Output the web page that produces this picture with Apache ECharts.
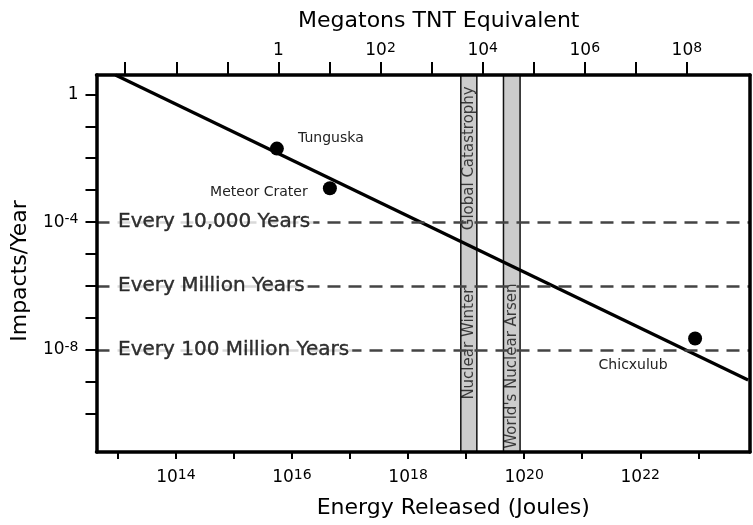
<!DOCTYPE html>
<html>
<head>
<meta charset="utf-8">
<script src="https://cdn.jsdelivr.net/npm/echarts@6/dist/echarts.min.js"></script>
<style>
html,body{margin:0;padding:0;background:#fff;}
#c{width:753px;height:525px;}
</style>
</head>
<body>
<div id="c"></div>
<script>
// ---------------- DATA ----------------
const eventNames = ['Tunguska', 'Meteor Crater', 'Chicxulub'];
const eventEnergyJ = [5.5e15, 4.5e16, 8.8e22];
const eventImpactsPerYear = [2.0e-2, 1.15e-3, 2.3e-8];

const trendEnergyJ = [9.1e12, 7.2e23];
const trendImpactsPerYear = [4.0, 1.15e-9];

const recurrenceImpactsPerYear = [1e-4, 1e-6, 1e-8];
const recurrenceLabels = ['Every 10,000 Years', 'Every Million Years', 'Every 100 Million Years'];

const bandStartJ = [8.1e18, 4.4e19];
const bandEndJ = [1.53e19, 8.5e19];
const bandTexts = ['Nuclear Winter', 'Global Catastrophy', "World's Nuclear Arsen"];
const bandTextBand = [0, 0, 1];

const energyTickExponents = [13, 14, 15, 16, 17, 18, 19, 20, 21, 22, 23];
const energyLabelExponents = [14, 16, 18, 20, 22];
const megatonTickExponents = [-3, -2, -1, 0, 1, 2, 3, 4, 5, 6, 7, 8];
const megatonLabelExponents = [0, 2, 4, 6, 8];
const rateTickExponents = [0, -1, -2, -3, -4, -5, -6, -7, -8, -9, -10];
const rateLabelExponents = [0, -4, -8];

// ---------------- LAYOUT ----------------
const L = Math.log10;
const xMin = 12.633, xMax = 23.89;       // energy exponent extent
const mtMin = -3.563, mtMax = 9.236;     // megaton exponent extent
const yMin = -11.19, yMax = 0.604;       // impacts/year exponent extent
const bandTextY = [-7.8, -2.0, -8.5];
const eventLabelOffsets = [[54, -10], [-71, 4], [-62, 27]];

const FONT = 'DejaVu Sans';
const rich = {
  b: {fontSize: 17, lineHeight: 19, fontFamily: FONT, color: '#000'},
  s: {fontSize: 14, lineHeight: 13, verticalAlign: 'top', fontFamily: FONT, color: '#000'}
};
function expFmt(v) {
  const n = Math.round(v);
  if (n === 0) return '{b|1}';
  return '{b|10}{s|' + n + '}';
}
const black = '#000';

const option = {
  animation: false,
  textStyle: {fontFamily: FONT, color: '#000'},
  grid: {left: 96, right: 3, top: 75, bottom: 73, containLabel: false},
  xAxis: [
    {
      type: 'value', position: 'bottom', min: xMin, max: xMax, z: 10,
      axisLine: {show: true, onZero: false, lineStyle: {color: black, width: 3.5}},
      axisTick: {show: true, length: 7, lineStyle: {color: black, width: 2}, customValues: energyTickExponents},
      axisLabel: {margin: 16, customValues: energyLabelExponents, formatter: expFmt, rich: rich},
      splitLine: {show: false},
      name: 'Energy Released (Joules)', nameLocation: 'middle', nameGap: 44,
      nameTextStyle: {fontSize: 22, lineHeight: 24, padding: [0, 0, 0, 60], color: '#000', fontFamily: FONT}
    },
    {
      type: 'value', position: 'top', min: mtMin, max: mtMax, z: 10,
      axisLine: {show: true, onZero: false, lineStyle: {color: black, width: 3.5}},
      axisTick: {show: true, length: 13, lineStyle: {color: black, width: 2}, customValues: megatonTickExponents},
      axisLabel: {margin: 15, customValues: megatonLabelExponents, formatter: expFmt, rich: rich},
      splitLine: {show: false},
      name: 'Megatons TNT Equivalent', nameLocation: 'middle', nameGap: 42,
      nameTextStyle: {fontSize: 22, lineHeight: 24, padding: [0, 0, 0, 31], color: '#000', fontFamily: FONT}
    }
  ],
  yAxis: [
    {
      type: 'value', position: 'left', min: yMin, max: yMax, z: 10,
      axisLine: {show: true, onZero: false, lineStyle: {color: black, width: 3.5}},
      axisTick: {show: true, length: 11, lineStyle: {color: black, width: 2}, customValues: rateTickExponents},
      axisLabel: {margin: 18, customValues: rateLabelExponents, formatter: expFmt, rich: rich},
      splitLine: {show: false},
      name: 'Impacts/Year', nameLocation: 'middle', nameRotate: 90, nameGap: 52,
      nameTextStyle: {fontSize: 22, lineHeight: 24, padding: [0, 15, 0, 0], color: '#000', fontFamily: FONT}
    },
    {
      type: 'value', position: 'right', min: yMin, max: yMax, z: 10,
      axisLine: {show: true, onZero: false, lineStyle: {color: black, width: 3.5}},
      axisTick: {show: false}, axisLabel: {show: false}, splitLine: {show: false}
    }
  ],
  series: [
    {
      type: 'line', data: [], z: 1, silent: true,
      markLine: {
        silent: true, symbol: 'none', animation: false,
        label: {show: false},
        lineStyle: {color: '#444', width: 2.5, type: [13, 8]},
        data: recurrenceImpactsPerYear.map(r => ({yAxis: L(r)}))
      }
    },
    {
      type: 'line', data: [], z: 2, silent: true,
      markArea: {
        silent: true, animation: false,
        itemStyle: {color: '#cccccc', borderColor: '#111', borderWidth: 1.5, opacity: 1},
        data: bandStartJ.map((s, i) => [{xAxis: L(s)}, {xAxis: L(bandEndJ[i])}])
      }
    },
    {
      type: 'scatter', z: 3, silent: true, clip: false,
      symbolSize: 1, itemStyle: {color: 'rgba(0,0,0,0)'},
      data: bandTexts.map((t, i) => {
        const b = bandTextBand[i];
        return {name: t, value: [(L(bandStartJ[b]) + L(bandEndJ[b])) / 2, bandTextY[i]]};
      }),
      label: {show: true, position: 'inside', rotate: 90, formatter: '{b}', fontSize: 15, color: '#111', fontFamily: FONT}
    },
    {
      type: 'line', z: 4, silent: true, symbol: 'none',
      data: trendEnergyJ.map((e, i) => [L(e), L(trendImpactsPerYear[i])]),
      lineStyle: {color: black, width: 3.2}
    },
    {
      type: 'scatter', z: 5, silent: true, symbolSize: 14,
      itemStyle: {color: black, opacity: 1},
      data: eventNames.map((n, i) => ({
        name: n,
        value: [L(eventEnergyJ[i]), L(eventImpactsPerYear[i])],
        label: {offset: eventLabelOffsets[i]}
      })),
      label: {show: true, position: 'inside', formatter: '{b}', fontSize: 14, color: '#222', fontFamily: FONT}
    },
    {
      type: 'scatter', z: 6, silent: true, clip: false,
      symbolSize: 1, itemStyle: {color: 'rgba(0,0,0,0)'},
      data: recurrenceImpactsPerYear.map((r, i) => ({name: recurrenceLabels[i], value: [xMin, L(r)]})),
      label: {
        show: true, position: 'right', distance: 17, formatter: '{b}',
        fontSize: 20, color: '#000', fontFamily: FONT,
        textBorderColor: '#000', textBorderWidth: 0.4,
        backgroundColor: '#fff', padding: [1, 3, 1, 4]
      }
    }
  ]
};

const chart = echarts.init(document.getElementById('c'), null, {renderer: 'canvas'});
chart.setOption(option);
</script>
</body>
</html>
